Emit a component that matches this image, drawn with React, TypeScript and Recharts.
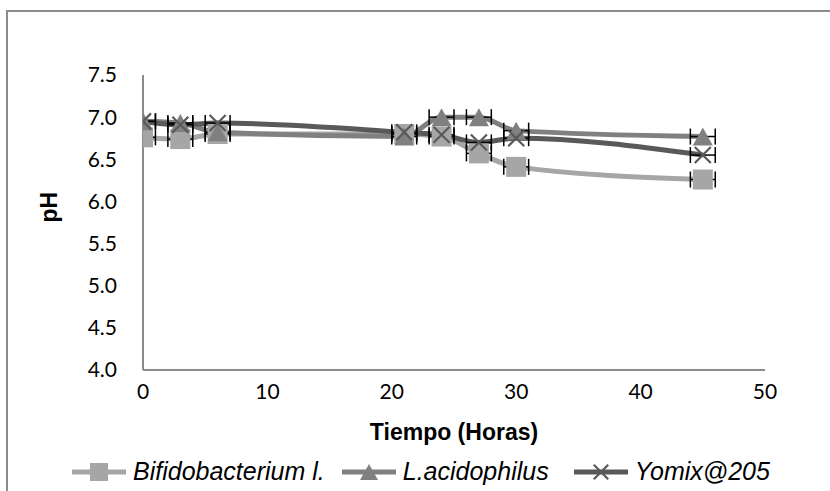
import React from 'react';
import { ComposedChart, ErrorBar, Line, Scatter, XAxis, YAxis } from 'recharts';

// valores
const horas = [0, 3, 6, 21, 24, 27, 30, 45];
const bifidobacterium = [6.76, 6.74, 6.8, 6.8, 6.77, 6.57, 6.41, 6.26];
const acidophilus = [6.95, 6.93, 6.82, 6.77, 7.0, 7.0, 6.84, 6.77];
const yomix = [6.95, 6.91, 6.93, 6.82, 6.79, 6.7, 6.75, 6.55];
// barras de error horizontales (horas), hacia la izquierda y hacia la derecha
const errorMenos = [0, 1, 1, 1, 1, 1, 1, 1];
const errorMas = [1, 1, 1, 1, 1, 1, 1, 1];

const seriesNames = ['Bifidobacterium l.', 'L.acidophilus', 'Yomix@205'];
const xTicks = [0, 10, 20, 30, 40, 50];
const yTicks = [4, 4.5, 5, 5.5, 6, 6.5, 7, 7.5];

const data = horas.map((h, i) => ({
    hora: h,
    bifido: bifidobacterium[i],
    acido: acidophilus[i],
    yomix: yomix[i],
    err: [errorMenos[i], errorMas[i]],
}));

const series = [
    { key: 'bifido', name: seriesNames[0], color: '#A6A6A6', marker: 'square' },
    { key: 'acido', name: seriesNames[1], color: '#808080', marker: 'triangle' },
    { key: 'yomix', name: seriesNames[2], color: '#595959', marker: 'cross' },
];

function Marker({ kind, cx, cy, color, s = 1 }: any) {
    if (kind === 'square') {
        const h = 10 * s;
        return <rect x={cx - h} y={cy - h} width={2 * h} height={2 * h} fill={color} />;
    }
    if (kind === 'triangle') {
        const w = 10 * s;
        const h = 9 * s;
        return (
            <polygon
                points={`${cx},${cy - h} ${cx + w},${cy + h} ${cx - w},${cy + h}`}
                fill={color}
            />
        );
    }
    const d = 8 * s;
    return (
        <g stroke={color} strokeWidth={2.2}>
            <line x1={cx - d} y1={cy - d} x2={cx + d} y2={cy + d} />
            <line x1={cx - d} y1={cy + d} x2={cx + d} y2={cy - d} />
        </g>
    );
}

function ChartLegend() {
    return (
        <div style={{ display: 'flex', alignItems: 'center' }}>
            {series.map((s, i) => (
                <div
                    key={s.key}
                    style={{ display: 'flex', alignItems: 'center', marginLeft: i === 0 ? 0 : i === 1 ? 17 : 25 }}
                >
                    <svg width={54} height={22}>
                        <line x1={0} y1={11} x2={54} y2={11} stroke={s.color} strokeWidth={5} />
                        <Marker kind={s.marker} cx={27} cy={11} color={s.color} s={0.9} />
                    </svg>
                    <span
                        style={{
                            fontFamily: '"Liberation Sans", Arial, sans-serif',
                            fontStyle: 'italic',
                            fontSize: 25,
                            color: '#000',
                            marginLeft: 7,
                        }}
                    >
                        {s.name}
                    </span>
                </div>
            ))}
        </div>
    );
}

export default function App() {
    const tickStyle = { fontFamily: 'Lato, sans-serif', fontSize: 21, fill: '#000' };
    const titleStyle = {
        fontFamily: '"Liberation Sans", Arial, sans-serif',
        fontWeight: 'bold',
        fontSize: 23,
        fill: '#000',
    };

    return (
        <div
            style={{
                position: 'fixed',
                left: 0,
                top: 0,
                width: 830,
                height: 491,
                overflow: 'hidden',
                background: '#fff',
            }}
        >
            <div
                style={{
                    position: 'absolute',
                    left: 6,
                    top: 10,
                    width: 900,
                    height: 600,
                    border: '2px solid #8C8C8C',
                }}
            />
            <div style={{ position: 'absolute', left: 0, top: 0 }}>
                <ComposedChart
                    width={830}
                    height={491}
                    data={data}
                    margin={{ top: 75, right: 65, left: 20, bottom: 0 }}
                >
                    <XAxis
                        dataKey='hora'
                        type='number'
                        domain={[0, 50]}
                        allowDataOverflow
                        ticks={xTicks}
                        height={121}
                        tickLine={false}
                        tickSize={0}
                        tickMargin={14}
                        axisLine={{ stroke: '#8C8C8C', strokeWidth: 2 }}
                        tick={tickStyle}
                        label={{ value: 'Tiempo (Horas)', position: 'insideTop', offset: 54, style: titleStyle }}
                    />
                    <YAxis
                        type='number'
                        domain={[4, 7.5]}
                        allowDataOverflow
                        ticks={yTicks}
                        width={123}
                        tickLine={false}
                        tickSize={0}
                        tickMargin={26}
                        axisLine={{ stroke: '#8C8C8C', strokeWidth: 2 }}
                        tick={tickStyle}
                        tickFormatter={(v: number) => v.toFixed(1)}
                        label={{ value: 'pH', angle: -90, position: 'insideLeft', offset: 29, style: titleStyle }}
                    />
                    {series.map((s) => (
                        <Line
                            key={s.key}
                            dataKey={s.key}
                            name={s.name}
                            type='monotone'
                            stroke={s.color}
                            strokeWidth={5}
                            isAnimationActive={false}
                            dot={(p: any) => (
                                <Marker key={`${s.key}-${p.index}`} kind={s.marker} cx={p.cx} cy={p.cy} color={s.color} />
                            )}
                            activeDot={false}
                        />
                    ))}
                    {series.map((s) => (
                        <Scatter
                            key={`err-${s.key}`}
                            dataKey={s.key}
                            shape={() => <g />}
                            isAnimationActive={false}
                        >
                            <ErrorBar
                                dataKey='err'
                                direction='x'
                                width={8}
                                stroke='#000'
                                strokeWidth={1.5}
                                isAnimationActive={false}
                            />
                        </Scatter>
                    ))}
                </ComposedChart>
            </div>
            <div style={{ position: 'absolute', left: 72, top: 457 }}>
                <ChartLegend />
            </div>
        </div>
    );
}
